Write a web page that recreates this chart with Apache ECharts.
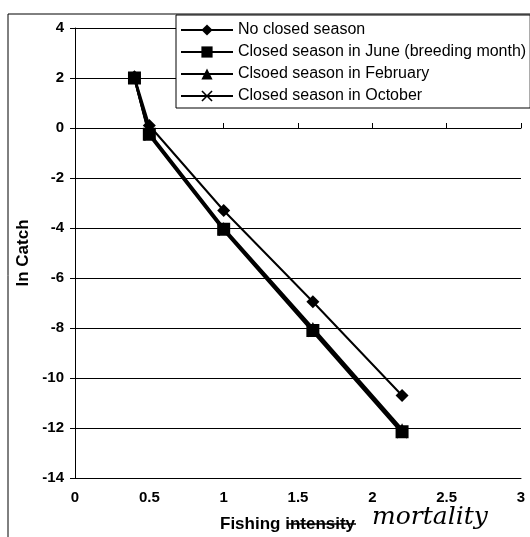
<!DOCTYPE html>
<html>
<head>
<meta charset="utf-8">
<script src="https://cdn.jsdelivr.net/npm/echarts@6/dist/echarts.min.js"></script>
<style>
  html, body { margin: 0; padding: 0; background: #fff; }
  #chart { width: 530px; height: 537px; }
</style>
</head>
<body>
<div id="chart"></div>
<script>
// fishing intensity (x) and ln catch per scenario
const intensity = [0.4, 0.5, 1.0, 1.6, 2.2];
const noClosed = [2.05, 0.1, -3.3, -6.95, -10.7];
const closedJune = [2.0, -0.25, -4.05, -8.1, -12.15];
const closedFeb = [2.0, -0.2, -4.0, -8.0, -12.05];
const closedOct = [2.0, -0.3, -4.1, -8.15, -12.2];
const seriesNames = [
  'No closed season',
  'Closed season in June (breeding month)',
  'Clsoed season in February',
  'Closed season in October'
];

const pairs = ys => intensity.map((x, i) => [x, ys[i]]);
const xMark = 'path://M0,1L1,0L5,4L9,0L10,1L6,5L10,9L9,10L5,6L1,10L0,9L4,5Z';
const font = 'Liberation Sans, Arial, sans-serif';

function line(name, ys, symbol, size, width) {
  return {
    name: name,
    type: 'line',
    data: pairs(ys),
    symbol: symbol,
    symbolSize: size,
    lineStyle: { color: '#000', width: width },
    itemStyle: { color: '#000' },
    xAxisIndex: 0,
    animation: false
  };
}

const chart = echarts.init(document.getElementById('chart'));
chart.setOption({
  backgroundColor: '#fff',
  animation: false,
  grid: { left: 75, right: 9, top: 28, bottom: 59, containLabel: false },
  legend: {
    left: 176, top: 15,
    orient: 'vertical',
    padding: [7, 4, 4, 4],
    itemWidth: 52, itemHeight: 14, itemGap: 6,
    borderColor: '#000', borderWidth: 1,
    backgroundColor: '#fff',
    textStyle: { color: '#000', fontSize: 16, fontFamily: font },
    data: seriesNames
  },
  xAxis: [{
    type: 'value', min: 0, max: 3, interval: 0.5,
    axisLine: { onZero: false, lineStyle: { color: '#000', width: 1 } },
    axisTick: { show: false },
    axisLabel: { color: '#000', fontSize: 15, fontWeight: 'bold', fontFamily: font, margin: 12 },
    splitLine: { show: false }
  }, {
    type: 'value', min: 0, max: 3, interval: 0.5, position: 'bottom',
    axisLine: { onZero: true, lineStyle: { color: '#000', width: 1 } },
    axisTick: { show: true, inside: true, length: 5, lineStyle: { color: '#000' } },
    axisLabel: { show: false },
    splitLine: { show: false }
  }],
  yAxis: {
    type: 'value', min: -14, max: 4, interval: 2,
    name: 'ln Catch', nameLocation: 'middle', nameGap: 34, nameRotate: 90,
    nameTextStyle: { color: '#000', fontSize: 17, fontWeight: 'bold', fontFamily: font },
    axisLine: { show: true, lineStyle: { color: '#000', width: 1 } },
    axisTick: { show: true, length: 5, lineStyle: { color: '#000' } },
    axisLabel: { color: '#000', fontSize: 15, fontWeight: 'bold', fontFamily: font, margin: 11 },
    splitLine: { show: true, lineStyle: { color: '#000', width: 1 } }
  },
  graphic: [
    { type: 'line', shape: { x1: 8, y1: 14, x2: 530, y2: 14 }, style: { stroke: '#000', lineWidth: 1 } },
    { type: 'line', shape: { x1: 8, y1: 14, x2: 8, y2: 537 }, style: { stroke: '#000', lineWidth: 1 } },
    { type: 'text', left: 220, top: 516,
      style: { text: 'Fishing intensity', fill: '#000', font: 'bold 17px ' + font } },
    { type: 'line', shape: { x1: 287, y1: 524, x2: 356, y2: 524 }, style: { stroke: '#000', lineWidth: 1.5 } },
    { type: 'text', left: 372, top: 505,
      style: { text: 'mortality', fill: '#000', font: 'italic 25px DejaVu Serif, serif' } }
  ],
  series: [
    line(seriesNames[0], noClosed, 'diamond', 13, 2),
    line(seriesNames[1], closedJune, 'rect', 13, 2.5),
    line(seriesNames[2], closedFeb, 'triangle', 12, 2.5),
    line(seriesNames[3], closedOct, xMark, 11, 2.5)
  ]
});
</script>
</body>
</html>
